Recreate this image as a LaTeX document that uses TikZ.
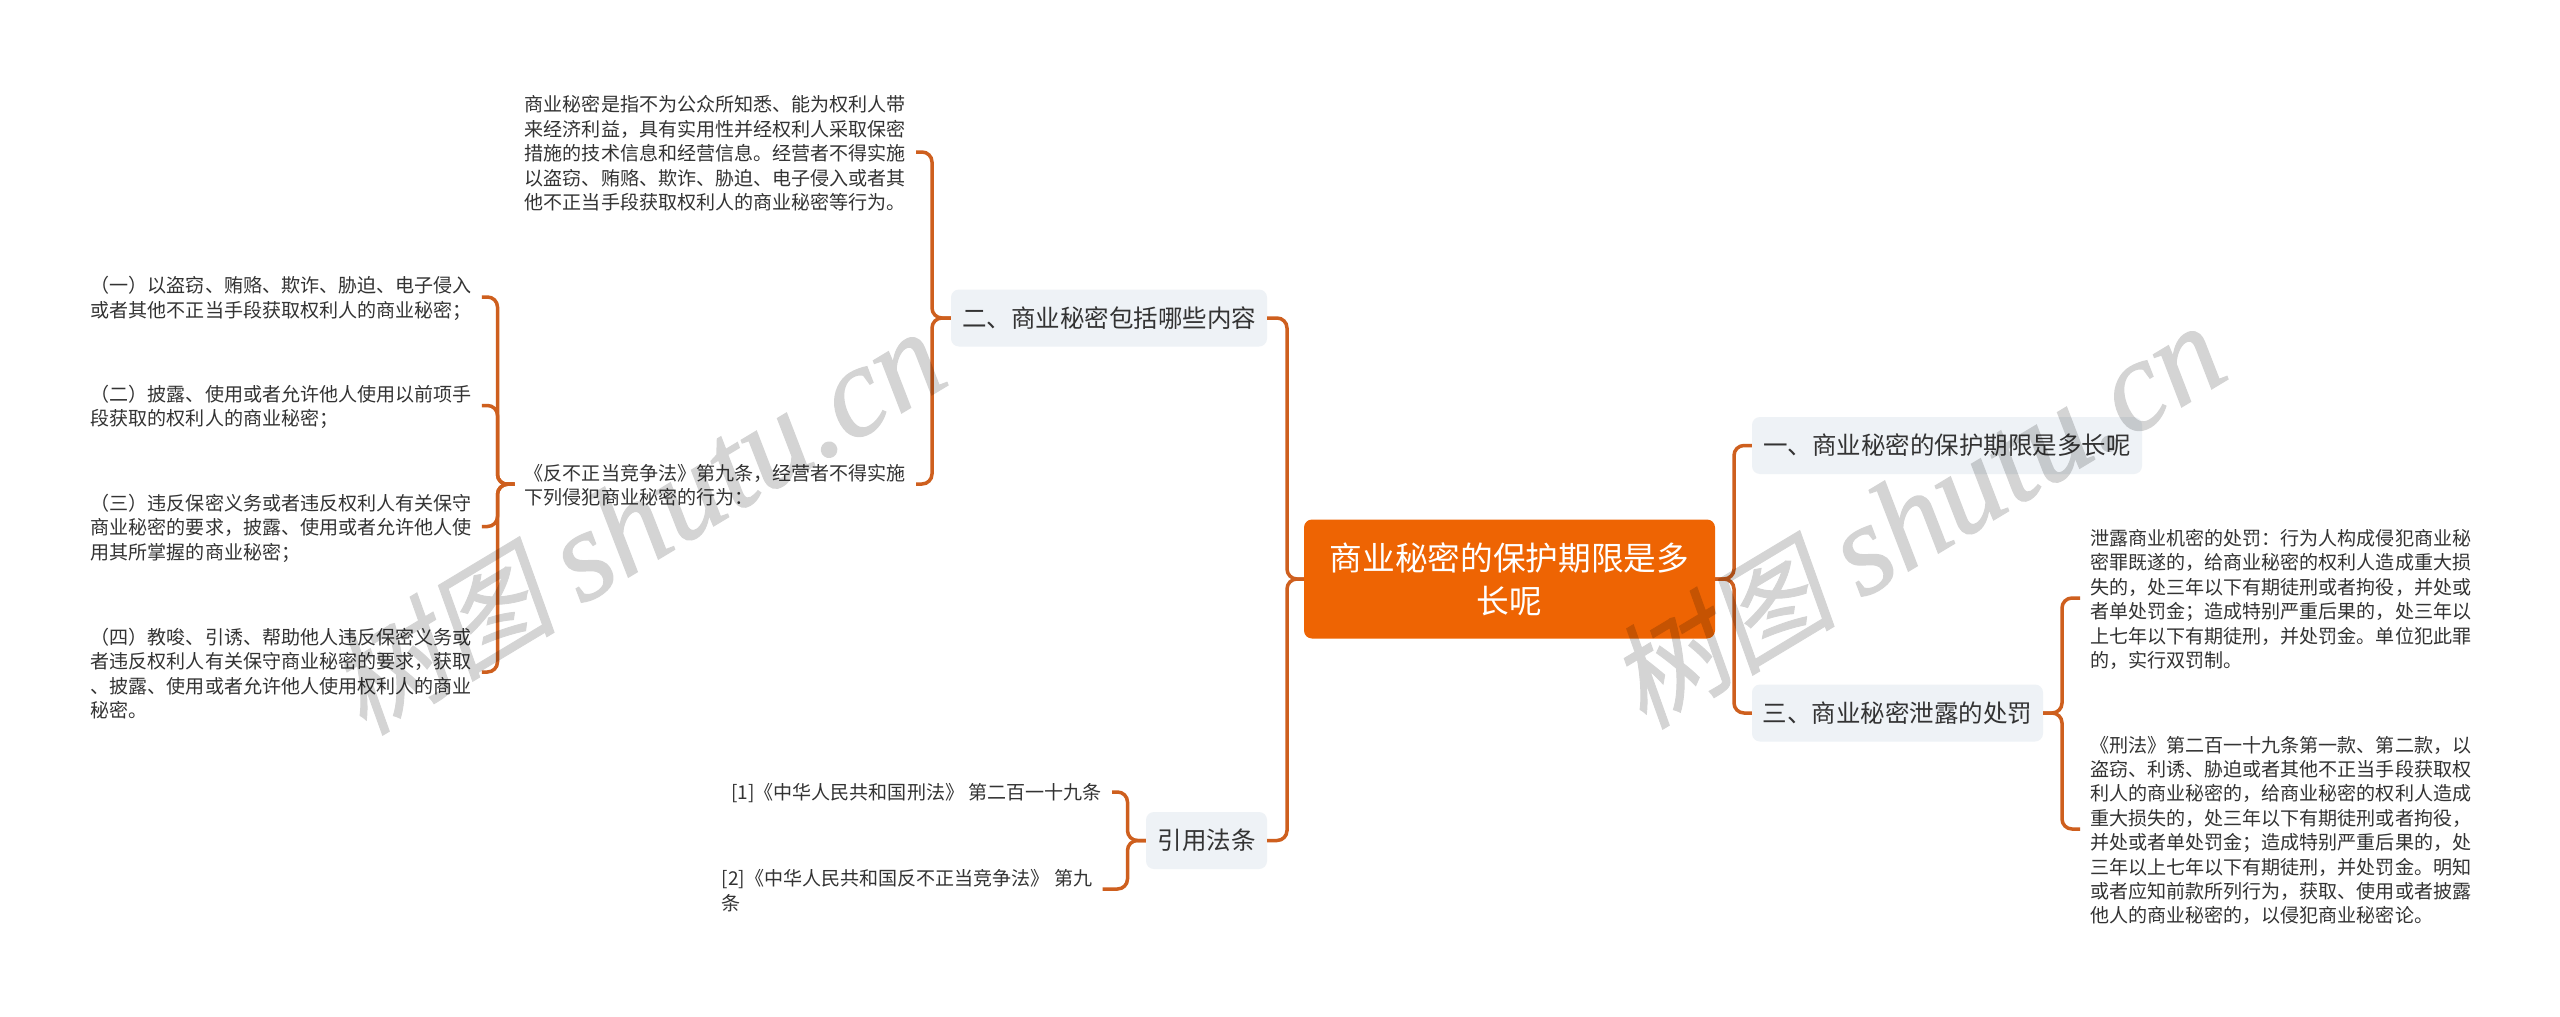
\documentclass[tikz,border=0pt]{standalone}
\usepackage{fontspec}
\setmainfont{Noto Sans CJK SC}
\newfontfamily\wmlatin[ItalicFeatures={FakeBold=1}]{Liberation Serif}
\newfontfamily\wmcjk[FakeSlant=0.2,FakeBold=0.8]{Noto Sans CJK SC}
\definecolor{rootfill}{HTML}{EE6403}
\definecolor{linecol}{HTML}{CE5F1E}
\definecolor{subfill}{HTML}{EEF2F6}
\definecolor{txt}{HTML}{333333}
\newcommand{\wmtext}{{\fontsize{114pt}{118pt}\wmcjk\selectfont 树图}\hspace{26pt}{\fontsize{129pt}{129pt}\wmlatin\itshape\selectfont shutu.cn}}
\tikzset{
  conn/.style={draw=linecol,line width=3.5pt,rounded corners=10pt},
  rootnode/.style={draw=none,fill=rootfill,rounded corners=8pt,text=white,align=center,inner sep=0pt,minimum width=411pt,minimum height=119pt,font=\fontsize{32.7pt}{43pt}\selectfont},
  subnode/.style={draw=none,fill=subfill,rounded corners=8pt,text=txt,inner sep=0pt,minimum height=57pt,font=\fontsize{24.5pt}{30pt}\selectfont},
  leafnode/.style={text=txt,align=left,inner xsep=10pt,inner ysep=0pt,font=\fontsize{19.05pt}{24.4pt}\selectfont},
  wmnode/.style={text=black,rotate=31,inner sep=0pt}
}
\begin{document}
\begin{tikzpicture}[x=1pt,y=-1pt]
\useasboundingbox (0,0) rectangle (2560,1017);
\fill[white] (0,0) rectangle (2560,1017);
% nodes
\node[rootnode] (root) at (1509.5,579) {商业秘密的保护期限是多\\长呢};
\node[subnode,minimum width=316pt] (n2) at (1109,318) {二、商业秘密包括哪些内容};
\node[subnode,minimum width=121pt] (n4) at (1206.5,840.5) {引用法条};
\node[subnode,minimum width=390pt] (n1) at (1947,445.5) {一、商业秘密的保护期限是多长呢};
\node[subnode,minimum width=291pt] (n3) at (1897.5,713) {三、商业秘密泄露的处罚};
%
\node[leafnode,anchor=east] (a1) at (916,153.5) {商业秘密是指不为公众所知悉、能为权利人带\\来经济利益，具有实用性并经权利人采取保密\\措施的技术信息和经营信息。经营者不得实施\\以盗窃、贿赂、欺诈、胁迫、电子侵入或者其\\他不正当手段获取权利人的商业秘密等行为。};
\node[leafnode,anchor=east] (a2) at (916,485.5) {《反不正当竞争法》第九条，经营者不得实施\\下列侵犯商业秘密的行为：};
\node[leafnode,anchor=west] (a2x) at (80.5,298.5) {（一）以盗窃、贿赂、欺诈、胁迫、电子侵入\\或者其他不正当手段获取权利人的商业秘密；};
\node[leafnode,anchor=west] (b2) at (80.5,407) {（二）披露、使用或者允许他人使用以前项手\\段获取的权利人的商业秘密；};
\node[leafnode,anchor=west] (b3) at (80.5,528) {（三）违反保密义务或者违反权利人有关保守\\商业秘密的要求，披露、使用或者允许他人使\\用其所掌握的商业秘密；};
\node[leafnode,anchor=west] (b4) at (80.5,673.5) {（四）教唆、引诱、帮助他人违反保密义务或\\者违反权利人有关保守商业秘密的要求，获取\\、披露、使用或者允许他人使用权利人的商业\\秘密。};
\node[leafnode,anchor=east] (c1) at (1112,793.5) {[1]《中华人民共和国刑法》 第二百一十九条};
\node[leafnode,anchor=west] (c2) at (711.5,890.5) {[2]《中华人民共和国反不正当竞争法》 第九\\条};
\node[leafnode,anchor=west] (d1) at (2080,599.5) {泄露商业机密的处罚：行为人构成侵犯商业秘\\密罪既遂的，给商业秘密的权利人造成重大损\\失的，处三年以下有期徒刑或者拘役，并处或\\者单处罚金；造成特别严重后果的，处三年以\\上七年以下有期徒刑，并处罚金。单位犯此罪\\的，实行双罚制。};
\node[leafnode,anchor=west] (d2) at (2080,830.5) {《刑法》第二百一十九条第一款、第二款，以\\盗窃、利诱、胁迫或者其他不正当手段获取权\\利人的商业秘密的，给商业秘密的权利人造成\\重大损失的，处三年以下有期徒刑或者拘役，\\并处或者单处罚金；造成特别严重后果的，处\\三年以上七年以下有期徒刑，并处罚金。明知\\或者应知前款所列行为，获取、使用或者披露\\他人的商业秘密的，以侵犯商业秘密论。};
% spines
\coordinate (sL) at (1287,579);
\coordinate (sR) at (1734,579);
\coordinate (s2) at (932,318);
\coordinate (s3) at (2062,713);
\coordinate (s4) at (1127.5,840.5);
\coordinate (s5) at (497.5,484.5);
% connectors
\draw[conn] (root.west) -- (sL) |- (n2.east);
\draw[conn] (root.west) -- (sL) |- (n4.east);
\draw[conn] (root.east) -- (sR) |- (n1.west);
\draw[conn] (root.east) -- (sR) |- (n3.west);
\draw[conn] (n2.west) -- (s2) |- ([yshift=1.5pt]a1.east);
\draw[conn] (n2.west) -- (s2) |- ([yshift=1.5pt]a2.east);
\draw[conn] (n3.east) -- (s3) |- ([yshift=1.5pt]d1.west);
\draw[conn] (n3.east) -- (s3) |- ([yshift=1.5pt]d2.west);
\draw[conn] (n4.west) -- (s4) |- ([yshift=1.5pt]c1.east);
\draw[conn] (n4.west) -- (s4) |- ([yshift=1.5pt]c2.east);
\draw[conn] ([yshift=1.5pt]a2.west) -- (s5) |- ([yshift=1.5pt]a2x.east);
\draw[conn] ([yshift=1.5pt]a2.west) -- (s5) |- ([yshift=1.5pt]b2.east);
\draw[conn] ([yshift=1.5pt]a2.west) -- (s5) |- ([yshift=1.5pt]b3.east);
\draw[conn] ([yshift=1.5pt]a2.west) -- (s5) |- ([yshift=1.5pt]b4.east);
% watermarks
\begin{scope}[transparency group,opacity=.17]
\node[wmnode] (w1) at (636,522) {\wmtext};
\node[wmnode] (w2) at (1916,516) {\wmtext};
\end{scope}
\end{tikzpicture}
\end{document}
